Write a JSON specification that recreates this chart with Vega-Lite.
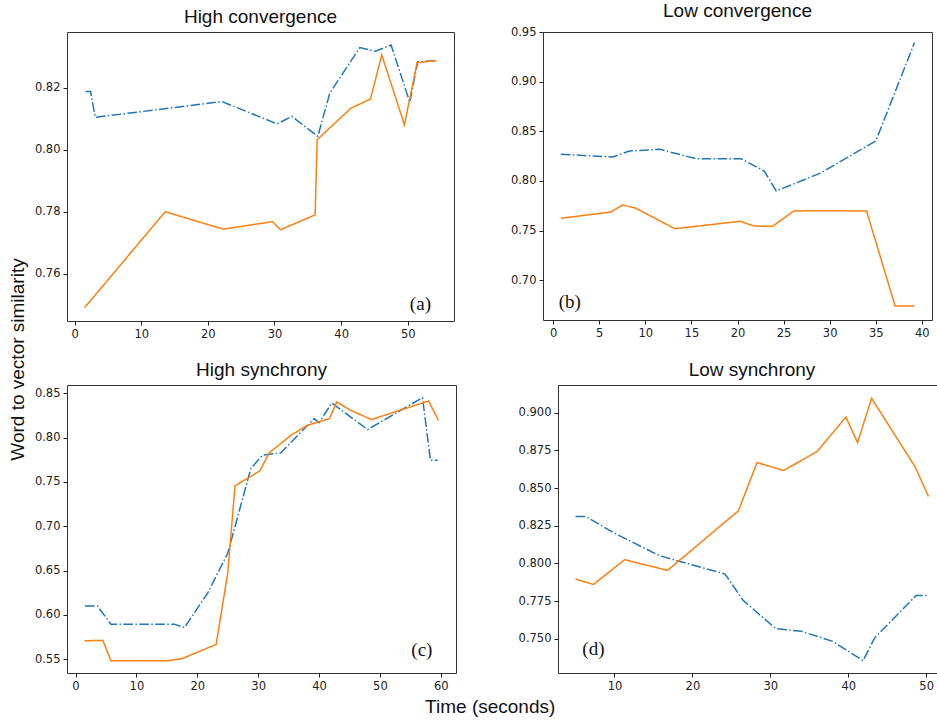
{
  "$schema": "https://vega.github.io/schema/vega-lite/v6.json",
  "background": "white",
  "padding": {"left": 8, "top": 1, "right": 0, "bottom": 4},
  "config": {
    "view": {"stroke": "#333", "strokeWidth": 1},
    "font": "DejaVu Sans",
    "axis": {
      "grid": false,
      "domain": false,
      "ticks": true,
      "tickColor": "#222",
      "tickSize": 4,
      "labelColor": "#222",
      "labelFont": "DejaVu Sans",
      "labelFontSize": 11.5,
      "labelPadding": 3,
      "title": null
    },
    "title": {"font": "Liberation Sans", "fontSize": 19, "fontWeight": "normal", "color": "#111", "offset": 5}
  },
  "datasets": {
    "lines": [
      {"panel": "a", "series": "Series 1", "t": 1.65, "val": 0.8187},
      {"panel": "a", "series": "Series 1", "t": 2.4, "val": 0.8187},
      {"panel": "a", "series": "Series 1", "t": 3.1, "val": 0.8104},
      {"panel": "a", "series": "Series 1", "t": 22.1, "val": 0.8155},
      {"panel": "a", "series": "Series 1", "t": 30.4, "val": 0.8083},
      {"panel": "a", "series": "Series 1", "t": 32.6, "val": 0.8107},
      {"panel": "a", "series": "Series 1", "t": 36.5, "val": 0.8043},
      {"panel": "a", "series": "Series 1", "t": 38.3, "val": 0.8182},
      {"panel": "a", "series": "Series 1", "t": 42.8, "val": 0.8329},
      {"panel": "a", "series": "Series 1", "t": 45.1, "val": 0.8317},
      {"panel": "a", "series": "Series 1", "t": 47.5, "val": 0.8337},
      {"panel": "a", "series": "Series 1", "t": 50.3, "val": 0.8153},
      {"panel": "a", "series": "Series 1", "t": 51.5, "val": 0.8283},
      {"panel": "a", "series": "Series 1", "t": 54.3, "val": 0.8287},
      {"panel": "a", "series": "Series 2", "t": 1.5, "val": 0.7491},
      {"panel": "a", "series": "Series 2", "t": 13.6, "val": 0.78},
      {"panel": "a", "series": "Series 2", "t": 22.3, "val": 0.7744},
      {"panel": "a", "series": "Series 2", "t": 29.7, "val": 0.7768},
      {"panel": "a", "series": "Series 2", "t": 30.9, "val": 0.7742},
      {"panel": "a", "series": "Series 2", "t": 36.1, "val": 0.779},
      {"panel": "a", "series": "Series 2", "t": 36.4, "val": 0.8032},
      {"panel": "a", "series": "Series 2", "t": 41.5, "val": 0.8134},
      {"panel": "a", "series": "Series 2", "t": 44.4, "val": 0.8163},
      {"panel": "a", "series": "Series 2", "t": 46.1, "val": 0.8305},
      {"panel": "a", "series": "Series 2", "t": 49.5, "val": 0.808},
      {"panel": "a", "series": "Series 2", "t": 51.4, "val": 0.828},
      {"panel": "a", "series": "Series 2", "t": 54.3, "val": 0.8287},

      {"panel": "b", "series": "Series 1", "t": 0.84, "val": 0.827},
      {"panel": "b", "series": "Series 1", "t": 6.46, "val": 0.8242},
      {"panel": "b", "series": "Series 1", "t": 8.28, "val": 0.8303},
      {"panel": "b", "series": "Series 1", "t": 11.55, "val": 0.832},
      {"panel": "b", "series": "Series 1", "t": 15.5, "val": 0.8225},
      {"panel": "b", "series": "Series 1", "t": 20.4, "val": 0.8225},
      {"panel": "b", "series": "Series 1", "t": 22.9, "val": 0.8101},
      {"panel": "b", "series": "Series 1", "t": 24.2, "val": 0.7899},
      {"panel": "b", "series": "Series 1", "t": 29.0, "val": 0.808},
      {"panel": "b", "series": "Series 1", "t": 35.0, "val": 0.8404},
      {"panel": "b", "series": "Series 1", "t": 39.2, "val": 0.9397},
      {"panel": "b", "series": "Series 2", "t": 0.84, "val": 0.7623},
      {"panel": "b", "series": "Series 2", "t": 6.28, "val": 0.7687},
      {"panel": "b", "series": "Series 2", "t": 7.55, "val": 0.7758},
      {"panel": "b", "series": "Series 2", "t": 9.0, "val": 0.7724},
      {"panel": "b", "series": "Series 2", "t": 13.2, "val": 0.7518},
      {"panel": "b", "series": "Series 2", "t": 20.3, "val": 0.7593},
      {"panel": "b", "series": "Series 2", "t": 21.8, "val": 0.7545},
      {"panel": "b", "series": "Series 2", "t": 23.8, "val": 0.7542},
      {"panel": "b", "series": "Series 2", "t": 26.1, "val": 0.7697},
      {"panel": "b", "series": "Series 2", "t": 29.0, "val": 0.77},
      {"panel": "b", "series": "Series 2", "t": 34.0, "val": 0.7697},
      {"panel": "b", "series": "Series 2", "t": 37.1, "val": 0.6737},
      {"panel": "b", "series": "Series 2", "t": 39.2, "val": 0.6737},

      {"panel": "c", "series": "Series 1", "t": 1.56, "val": 0.6102},
      {"panel": "c", "series": "Series 1", "t": 3.6, "val": 0.6102},
      {"panel": "c", "series": "Series 1", "t": 5.8, "val": 0.5896},
      {"panel": "c", "series": "Series 1", "t": 16.2, "val": 0.5896},
      {"panel": "c", "series": "Series 1", "t": 17.9, "val": 0.5858},
      {"panel": "c", "series": "Series 1", "t": 21.7, "val": 0.6245},
      {"panel": "c", "series": "Series 1", "t": 25.0, "val": 0.6695},
      {"panel": "c", "series": "Series 1", "t": 28.8, "val": 0.7651},
      {"panel": "c", "series": "Series 1", "t": 30.7, "val": 0.7801},
      {"panel": "c", "series": "Series 1", "t": 33.7, "val": 0.7827},
      {"panel": "c", "series": "Series 1", "t": 39.2, "val": 0.8214},
      {"panel": "c", "series": "Series 1", "t": 40.0, "val": 0.8169},
      {"panel": "c", "series": "Series 1", "t": 42.1, "val": 0.839},
      {"panel": "c", "series": "Series 1", "t": 48.0, "val": 0.809},
      {"panel": "c", "series": "Series 1", "t": 57.0, "val": 0.845},
      {"panel": "c", "series": "Series 1", "t": 58.3, "val": 0.7745},
      {"panel": "c", "series": "Series 1", "t": 59.5, "val": 0.7743},
      {"panel": "c", "series": "Series 2", "t": 1.45, "val": 0.5709},
      {"panel": "c", "series": "Series 2", "t": 4.5, "val": 0.5712},
      {"panel": "c", "series": "Series 2", "t": 5.8, "val": 0.5483},
      {"panel": "c", "series": "Series 2", "t": 15.2, "val": 0.5483},
      {"panel": "c", "series": "Series 2", "t": 17.6, "val": 0.5509},
      {"panel": "c", "series": "Series 2", "t": 23.1, "val": 0.5667},
      {"panel": "c", "series": "Series 2", "t": 25.0, "val": 0.647},
      {"panel": "c", "series": "Series 2", "t": 26.2, "val": 0.7456},
      {"panel": "c", "series": "Series 2", "t": 30.3, "val": 0.7625},
      {"panel": "c", "series": "Series 2", "t": 31.8, "val": 0.7827},
      {"panel": "c", "series": "Series 2", "t": 35.4, "val": 0.8026},
      {"panel": "c", "series": "Series 2", "t": 38.1, "val": 0.8139},
      {"panel": "c", "series": "Series 2", "t": 41.7, "val": 0.8214},
      {"panel": "c", "series": "Series 2", "t": 42.9, "val": 0.8401},
      {"panel": "c", "series": "Series 2", "t": 45.2, "val": 0.8308},
      {"panel": "c", "series": "Series 2", "t": 48.6, "val": 0.8203},
      {"panel": "c", "series": "Series 2", "t": 58.0, "val": 0.8413},
      {"panel": "c", "series": "Series 2", "t": 59.6, "val": 0.8195},

      {"panel": "d", "series": "Series 1", "t": 5.0, "val": 0.8312},
      {"panel": "d", "series": "Series 1", "t": 6.3, "val": 0.8312},
      {"panel": "d", "series": "Series 1", "t": 9.8, "val": 0.8206},
      {"panel": "d", "series": "Series 1", "t": 15.8, "val": 0.8051},
      {"panel": "d", "series": "Series 1", "t": 24.2, "val": 0.793},
      {"panel": "d", "series": "Series 1", "t": 26.5, "val": 0.7756},
      {"panel": "d", "series": "Series 1", "t": 30.7, "val": 0.7568},
      {"panel": "d", "series": "Series 1", "t": 34.0, "val": 0.755},
      {"panel": "d", "series": "Series 1", "t": 38.0, "val": 0.7484},
      {"panel": "d", "series": "Series 1", "t": 41.9, "val": 0.7356},
      {"panel": "d", "series": "Series 1", "t": 43.4, "val": 0.7507},
      {"panel": "d", "series": "Series 1", "t": 48.7, "val": 0.7787},
      {"panel": "d", "series": "Series 1", "t": 50.3, "val": 0.7787},
      {"panel": "d", "series": "Series 2", "t": 5.0, "val": 0.7897},
      {"panel": "d", "series": "Series 2", "t": 7.3, "val": 0.7861},
      {"panel": "d", "series": "Series 2", "t": 11.3, "val": 0.8025},
      {"panel": "d", "series": "Series 2", "t": 16.8, "val": 0.7954},
      {"panel": "d", "series": "Series 2", "t": 25.9, "val": 0.8349},
      {"panel": "d", "series": "Series 2", "t": 28.3, "val": 0.8669},
      {"panel": "d", "series": "Series 2", "t": 31.7, "val": 0.8616},
      {"panel": "d", "series": "Series 2", "t": 36.0, "val": 0.8742},
      {"panel": "d", "series": "Series 2", "t": 39.7, "val": 0.897},
      {"panel": "d", "series": "Series 2", "t": 41.2, "val": 0.8801},
      {"panel": "d", "series": "Series 2", "t": 43.0, "val": 0.9095},
      {"panel": "d", "series": "Series 2", "t": 48.6, "val": 0.8639},
      {"panel": "d", "series": "Series 2", "t": 50.3, "val": 0.8444}
    ]
  },
  "title": {"text": "Word to vector similarity", "orient": "left", "anchor": "middle", "offset": 6},
  "vconcat": [
    {
      "title": {"text": "Time (seconds)", "orient": "bottom", "anchor": "middle", "offset": 6},
      "spacing": 20,
      "vconcat": [
        {
          "bounds": "flush",
          "spacing": 89,
          "hconcat": [
            {
              "width": 387,
              "height": 289,
              "title": {"text": "High convergence"},
              "layer": [
                {
                  "data": {"name": "lines"},
                  "transform": [{"filter": "datum.panel === 'a'"}],
                  "mark": {"type": "line", "strokeWidth": 1.5},
                  "encoding": {
                    "x": {"field": "t", "type": "quantitative", "scale": {"domain": [-1.14, 56.94], "nice": false, "zero": false}, "axis": {"values": [0, 10, 20, 30, 40, 50]}},
                    "y": {"field": "val", "type": "quantitative", "scale": {"domain": [0.7448, 0.8379], "nice": false, "zero": false}, "axis": {"values": [0.76, 0.78, 0.8, 0.82], "format": ".2f"}},
                    "color": {"field": "series", "type": "nominal", "scale": {"domain": ["Series 1", "Series 2"], "range": ["#1f77b4", "#ff7f0e"]}, "legend": null},
                    "strokeDash": {"field": "series", "type": "nominal", "scale": {"domain": ["Series 1", "Series 2"], "range": [[9.6, 2.4, 1.5, 2.4], [1, 0]]}, "legend": null}
                  }
                },
                {
                  "data": {"values": [{"label": "(a)"}]},
                  "mark": {"type": "text", "font": "Liberation Serif", "fontSize": 19, "color": "#111", "baseline": "middle"},
                  "encoding": {"x": {"datum": 51.9}, "y": {"datum": 0.7503}, "text": {"field": "label"}}
                }
              ]
            },
            {
              "width": 389,
              "height": 288,
              "title": {"text": "Low convergence"},
              "layer": [
                {
                  "data": {"name": "lines"},
                  "transform": [{"filter": "datum.panel === 'b'"}],
                  "mark": {"type": "line", "strokeWidth": 1.5},
                  "encoding": {
                    "x": {"field": "t", "type": "quantitative", "scale": {"domain": [-1.1, 41.1], "nice": false, "zero": false}, "axis": {"values": [0, 5, 10, 15, 20, 25, 30, 35, 40]}},
                    "y": {"field": "val", "type": "quantitative", "scale": {"domain": [0.6596, 0.9505], "nice": false, "zero": false}, "axis": {"values": [0.7, 0.75, 0.8, 0.85, 0.9, 0.95], "format": ".2f"}},
                    "color": {"field": "series", "type": "nominal", "scale": {"domain": ["Series 1", "Series 2"], "range": ["#1f77b4", "#ff7f0e"]}, "legend": null},
                    "strokeDash": {"field": "series", "type": "nominal", "scale": {"domain": ["Series 1", "Series 2"], "range": [[9.6, 2.4, 1.5, 2.4], [1, 0]]}, "legend": null}
                  }
                },
                {
                  "data": {"values": [{"label": "(b)"}]},
                  "mark": {"type": "text", "font": "Liberation Serif", "fontSize": 19, "color": "#111", "baseline": "middle"},
                  "encoding": {"x": {"datum": 1.8}, "y": {"datum": 0.6778}, "text": {"field": "label"}}
                }
              ]
            }
          ]
        },
        {
          "bounds": "flush",
          "spacing": 102,
          "hconcat": [
            {
              "width": 389,
              "height": 288,
              "title": {"text": "High synchrony"},
              "layer": [
                {
                  "data": {"name": "lines"},
                  "transform": [{"filter": "datum.panel === 'c'"}],
                  "mark": {"type": "line", "strokeWidth": 1.5},
                  "encoding": {
                    "x": {"field": "t", "type": "quantitative", "scale": {"domain": [-1.4, 62.5], "nice": false, "zero": false}, "axis": {"values": [0, 10, 20, 30, 40, 50, 60]}},
                    "y": {"field": "val", "type": "quantitative", "scale": {"domain": [0.5345, 0.8593], "nice": false, "zero": false}, "axis": {"values": [0.55, 0.6, 0.65, 0.7, 0.75, 0.8, 0.85], "format": ".2f"}},
                    "color": {"field": "series", "type": "nominal", "scale": {"domain": ["Series 1", "Series 2"], "range": ["#1f77b4", "#ff7f0e"]}, "legend": null},
                    "strokeDash": {"field": "series", "type": "nominal", "scale": {"domain": ["Series 1", "Series 2"], "range": [[9.6, 2.4, 1.5, 2.4], [1, 0]]}, "legend": null}
                  }
                },
                {
                  "data": {"values": [{"label": "(c)"}]},
                  "mark": {"type": "text", "font": "Liberation Serif", "fontSize": 19, "color": "#111", "baseline": "middle"},
                  "encoding": {"x": {"datum": 56.9}, "y": {"datum": 0.5603}, "text": {"field": "label"}}
                }
              ]
            },
            {
              "width": 388,
              "height": 288,
              "title": {"text": "Low synchrony"},
              "layer": [
                {
                  "data": {"name": "lines"},
                  "transform": [{"filter": "datum.panel === 'd'"}],
                  "mark": {"type": "line", "strokeWidth": 1.5},
                  "encoding": {
                    "x": {"field": "t", "type": "quantitative", "scale": {"domain": [2.75, 52.55], "nice": false, "zero": false}, "axis": {"values": [10, 20, 30, 40, 50]}},
                    "y": {"field": "val", "type": "quantitative", "scale": {"domain": [0.7274, 0.9183], "nice": false, "zero": false}, "axis": {"values": [0.75, 0.775, 0.8, 0.825, 0.85, 0.875, 0.9], "format": ".3f"}},
                    "color": {"field": "series", "type": "nominal", "scale": {"domain": ["Series 1", "Series 2"], "range": ["#1f77b4", "#ff7f0e"]}, "legend": null},
                    "strokeDash": {"field": "series", "type": "nominal", "scale": {"domain": ["Series 1", "Series 2"], "range": [[9.6, 2.4, 1.5, 2.4], [1, 0]]}, "legend": null}
                  }
                },
                {
                  "data": {"values": [{"label": "(d)"}]},
                  "mark": {"type": "text", "font": "Liberation Serif", "fontSize": 19, "color": "#111", "baseline": "middle"},
                  "encoding": {"x": {"datum": 7.3}, "y": {"datum": 0.7436}, "text": {"field": "label"}}
                }
              ]
            }
          ]
        }
      ]
    }
  ]
}
